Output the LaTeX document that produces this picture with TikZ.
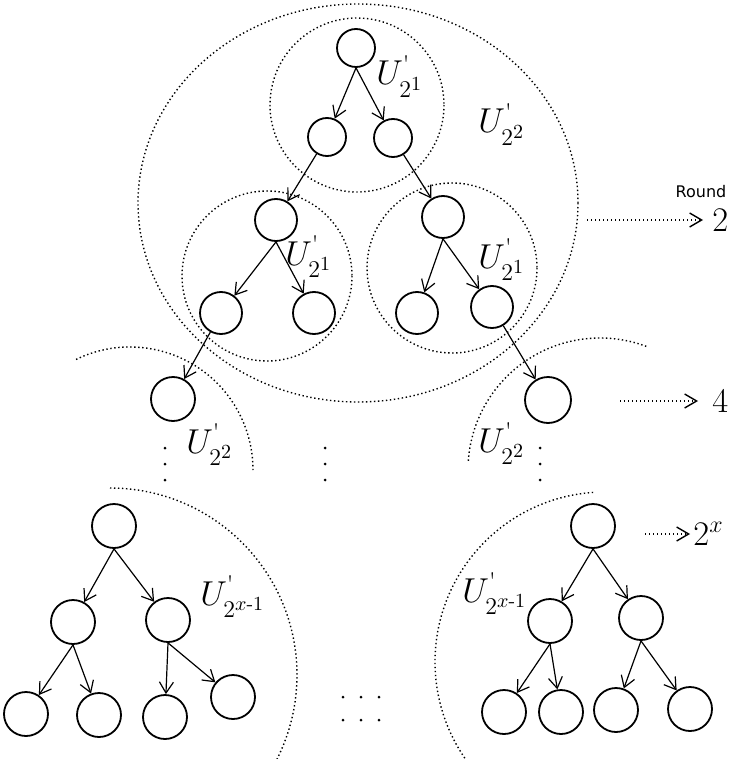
\documentclass[tikz,border=0pt]{standalone}
\usepackage{amsmath}
\usepackage{fontspec}
\usepackage{tikz}
\usetikzlibrary{arrows.meta}
\newfontfamily\roundfont{DejaVu Sans}
\newcommand{\tick}{\mbox{\large\textquotesingle}}

\begin{document}
\begin{tikzpicture}[x=0.5pt, y=-0.5pt,
    vert/.style={circle, draw, line width=0.9pt, minimum size=21pt, inner sep=0pt},
    edge/.style={line width=0.6pt, -{Straight Barb[length=5.5pt,width=7pt]}},
    group/.style={line width=0.7pt, dash pattern=on 0.7pt off 1.3pt},
    roundarrow/.style={group, -{Straight Barb[length=6pt,width=7pt]}},
    lab/.style={anchor=base west, inner sep=0pt, font=\LARGE},
    num/.style={anchor=west, inner ysep=0pt, font=\LARGE}]
    \useasboundingbox (0,0) rectangle (733,759);

    % draw top tree
    \node[vert, minimum size=19pt] (a) at (356,48) {};
    \node[vert, minimum size=19pt] (al) at (327,137) {};
    \node[vert, minimum size=19pt] (ar) at (393,138) {};
    \node[vert] (b) at (276,220) {};
    \node[vert] (c) at (443,217) {};
    \node[vert] (bl) at (221,313) {};
    \node[vert] (br) at (314,313) {};
    \node[vert] (cl) at (417,313) {};
    \node[vert] (cr) at (492,307) {};
    \node[vert, minimum size=22pt] (d) at (173,399) {};
    \node[vert, minimum size=23pt] (e) at (548,400) {};

    \draw[edge] (a.south) -- (al);
    \draw[edge] (a.south) -- (ar);
    \draw[edge] (al) -- (b);
    \draw[edge] (ar) -- (c);
    \draw[edge] (b.south) -- (bl);
    \draw[edge] (b.south) -- (br);
    \draw[edge] (c.south) -- (cl);
    \draw[edge] (c.south) -- (cr);
    \draw[edge] (bl) -- (d);
    \draw[edge] (cr) -- (e);

    % draw groups
    \draw[group] (357,105) circle (87);
    \draw[group] (358,203) circle [x radius=220, y radius=199];
    \draw[group] (267,276) circle (85);
    \draw[group] (452,268) circle (85);
    \draw[group] (130,470) ++(244:123) arc [start angle=244, end angle=360, radius=123];
    \draw[group] (600,470) ++(184:132) arc [start angle=184, end angle=291, radius=132];

    \node[lab] (ua) at (376,85) {$U^{\tick}_{2^1}$};
    \node[lab] (ub) at (478,133) {$U^{\tick}_{2^2}$};
    \node[lab] (uc) at (285,265) {$U^{\tick}_{2^1}$};
    \node[lab] (ud) at (478,268) {$U^{\tick}_{2^1}$};
    \node[lab] (ue) at (186,453) {$U^{\tick}_{2^2}$};
    \node[lab] (uf) at (478,452) {$U^{\tick}_{2^2}$};

    % draw vertical dots
    \foreach \x in {165,325,540}
      \foreach \y in {448,464,480}
        \fill (\x,\y) circle (1.5);

    % draw bottom left tree
    \node[vert, minimum size=22pt] (p) at (114,526) {};
    \node[vert, minimum size=22pt] (pl) at (73,622) {};
    \node[vert, minimum size=22pt] (pr) at (168,620) {};
    \node[vert, minimum size=22pt] (pll) at (26,714) {};
    \node[vert, minimum size=22pt] (plr) at (99,715) {};
    \node[vert, minimum size=22pt] (prl) at (165,717) {};
    \node[vert, minimum size=22pt] (prr) at (233,697) {};

    \draw[edge] (p.south) -- (pl);
    \draw[edge] (p.south) -- (pr);
    \draw[edge] (pl.south) -- (pll);
    \draw[edge] (pl.south) -- (plr);
    \draw[edge] (pr.south) -- (prl);
    \draw[edge] (pr.south) -- (prr);

    \draw[group] (110,675) ++(270:187) arc [start angle=270, end angle=387, radius=187];
    \node[lab] (up) at (200,605) {$U^{\tick}_{2^{x\text{-}1}}$};

    % draw bottom right tree
    \node[vert, minimum size=22pt] (q) at (593,526) {};
    \node[vert, minimum size=22pt] (ql) at (550,621) {};
    \node[vert, minimum size=22pt] (qr) at (641,618) {};
    \node[vert, minimum size=22pt] (qll) at (504,712) {};
    \node[vert, minimum size=22pt] (qlr) at (561,712) {};
    \node[vert, minimum size=22pt] (qrl) at (616,710) {};
    \node[vert, minimum size=22pt] (qrr) at (690,709) {};

    \draw[edge] (q.south) -- (ql);
    \draw[edge] (q.south) -- (qr);
    \draw[edge] (ql.south) -- (qll);
    \draw[edge] (ql.south) -- (qlr);
    \draw[edge] (qr.south) -- (qrl);
    \draw[edge] (qr.south) -- (qrr);

    \draw[group] (605,662) ++(266:170) arc [start angle=266, end angle=145, radius=170];
    \node[lab] (uq) at (462,602) {$U^{\tick}_{2^{x\text{-}1}}$};

    % draw horizontal dots
    \foreach \x in {343,361,379}
      \foreach \y in {697,720}
        \fill (\x,\y) circle (1.5);

    % draw rounds
    \node[font={\fontsize{8}{9}\selectfont\roundfont}] (rnd) at (701,192) {Round};
    \coordinate (s1) at (587,220);
    \node[num, inner xsep=4.5pt] (r1) at (703,220) {$2$};
    \draw[roundarrow] (s1) -- (r1);

    \coordinate (s2) at (620,401);
    \node[num, inner xsep=7pt] (r2) at (698,401) {$4$};
    \draw[roundarrow] (s2) -- (r2);

    \coordinate (s3) at (645,534);
    \node[num, inner xsep=1.5pt] (r3) at (690,534) {$2^x$};
    \draw[roundarrow] (s3) -- (r3);
\end{tikzpicture}
\end{document}
